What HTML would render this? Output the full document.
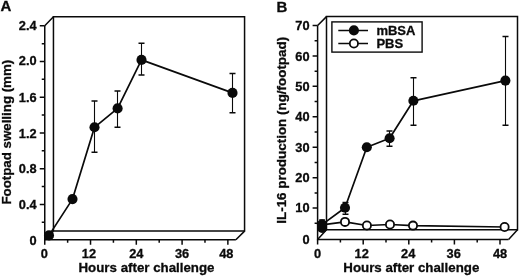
<!DOCTYPE html>
<html><head><meta charset="utf-8"><style>
html,body{margin:0;padding:0;background:#fff;}
body{width:520px;height:276px;overflow:hidden;}
svg{display:block;filter:grayscale(1) blur(0.3px);}
text{font-family:"Liberation Sans",sans-serif;font-weight:bold;fill:#0a0a0a;stroke:#0a0a0a;stroke-width:0.3px;}
</style></head><body>
<svg width="520" height="276" viewBox="0 0 520 276">
<rect width="520" height="276" fill="#fff"/>
<path d="M44.75,25.8 L44.75,239.7 L235.87,239.7" fill="none" stroke="#0a0a0a" stroke-width="1.5"/>
<path d="M53.45,231.10 L53.45,16.70 L244.57,16.70 L244.57,231.10 Z" fill="none" stroke="#0a0a0a" stroke-width="1.5"/>
<path d="M44.75,25.8 L53.45,16.70 M44.75,239.7 L53.45,231.10 M235.87,239.7 L244.57,231.10" fill="none" stroke="#0a0a0a" stroke-width="1.5"/>
<path d="M39.75,204.38h5M39.75,168.66h5M39.75,132.94h5M39.75,97.22h5M39.75,61.50h5M39.75,25.78h5M41.75,222.24h3M41.75,186.52h3M41.75,150.80h3M41.75,115.08h3M41.75,79.36h3M41.75,43.64h3M44.75,239.7v5M67.64,239.7v3M90.53,239.7v5M113.42,239.7v3M136.31,239.7v5M159.20,239.7v3M182.09,239.7v5M204.98,239.7v3M227.87,239.7v5" stroke="#0a0a0a" stroke-width="1.5"/>
<text transform="translate(36.60,244.60)" text-anchor="end" font-size="12.8">0</text>
<text transform="translate(36.60,209.10)" text-anchor="end" font-size="12.8">0.4</text>
<text transform="translate(36.60,173.30)" text-anchor="end" font-size="12.8">0.8</text>
<text transform="translate(36.60,137.60)" text-anchor="end" font-size="12.8">1.2</text>
<text transform="translate(36.60,101.90)" text-anchor="end" font-size="12.8">1.6</text>
<text transform="translate(36.60,65.40)" text-anchor="end" font-size="12.8">2.0</text>
<text transform="translate(36.60,30.10)" text-anchor="end" font-size="12.8">2.4</text>
<text transform="translate(44.25,257.60)" text-anchor="middle" font-size="12.8">0</text>
<text transform="translate(88.93,257.60)" text-anchor="middle" font-size="12.8">12</text>
<text transform="translate(136.31,257.60)" text-anchor="middle" font-size="12.8">24</text>
<text transform="translate(182.09,257.60)" text-anchor="middle" font-size="12.8">36</text>
<text transform="translate(226.27,257.60)" text-anchor="middle" font-size="12.8">48</text>
<text transform="translate(146.50,271.80)" text-anchor="middle" font-size="13.3">Hours after challenge</text>
<text transform="translate(11.00,132.20) rotate(-90)" text-anchor="middle" font-size="13.3">Footpad swelling (mm)</text>
<path d="M49.0,235.4 L72.5,199.1 L94.5,127.3 L117.6,108.4 L141.5,59.9 L232.5,92.9" fill="none" stroke="#0a0a0a" stroke-width="1.7" stroke-linejoin="round"/>

<path d="M94.5,100.9 L94.5,152.2" stroke="#0a0a0a" stroke-width="1.1"/>
<path d="M91.5,100.9 h6.0 M91.5,152.2 h6.0" stroke="#0a0a0a" stroke-width="1.5"/>
<path d="M117.5,91.0 L117.5,127.2" stroke="#0a0a0a" stroke-width="1.1"/>
<path d="M114.5,91.0 h6.0 M114.5,127.2 h6.0" stroke="#0a0a0a" stroke-width="1.5"/>
<path d="M141.5,43.2 L141.5,74.9" stroke="#0a0a0a" stroke-width="1.1"/>
<path d="M138.5,43.2 h6.0 M138.5,74.9 h6.0" stroke="#0a0a0a" stroke-width="1.5"/>
<path d="M232.5,73.4 L232.5,112.8" stroke="#0a0a0a" stroke-width="1.1"/>
<path d="M229.5,73.4 h6.0 M229.5,112.8 h6.0" stroke="#0a0a0a" stroke-width="1.5"/>
<circle cx="49.0" cy="235.4" r="5.05" fill="#0a0a0a"/>
<circle cx="72.5" cy="199.1" r="5.05" fill="#0a0a0a"/>
<circle cx="94.5" cy="127.3" r="5.05" fill="#0a0a0a"/>
<circle cx="117.6" cy="108.4" r="5.05" fill="#0a0a0a"/>
<circle cx="141.5" cy="59.9" r="5.05" fill="#0a0a0a"/>
<circle cx="232.5" cy="92.9" r="5.05" fill="#0a0a0a"/>
<path d="M317.6,25.5 L317.6,239.5 L508.60,239.5" fill="none" stroke="#0a0a0a" stroke-width="1.5"/>
<path d="M326.50,229.85 L326.50,16.60 L517.50,16.60 L517.50,229.85 Z" fill="none" stroke="#0a0a0a" stroke-width="1.5"/>
<path d="M317.6,25.5 L326.50,16.60 M317.6,239.5 L326.50,229.85 M508.60,239.5 L517.50,229.85" fill="none" stroke="#0a0a0a" stroke-width="1.5"/>
<path d="M312.6,208.11h5M312.6,177.67h5M312.6,147.23h5M312.6,116.79h5M312.6,86.36h5M312.6,55.92h5M312.6,25.48h5M314.6,223.33h3M314.6,192.89h3M314.6,162.45h3M314.6,132.01h3M314.6,101.57h3M314.6,71.14h3M314.6,40.70h3M317.60,239.5v5M340.40,239.5v3M363.20,239.5v5M386.00,239.5v3M408.80,239.5v5M431.60,239.5v3M454.40,239.5v5M477.20,239.5v3M500.00,239.5v5" stroke="#0a0a0a" stroke-width="1.5"/>
<text transform="translate(309.60,244.00)" text-anchor="end" font-size="12.8">0</text>
<text transform="translate(309.60,212.30)" text-anchor="end" font-size="12.8">10</text>
<text transform="translate(309.60,181.80)" text-anchor="end" font-size="12.8">20</text>
<text transform="translate(309.60,151.50)" text-anchor="end" font-size="12.8">30</text>
<text transform="translate(309.60,120.80)" text-anchor="end" font-size="12.8">40</text>
<text transform="translate(309.60,90.60)" text-anchor="end" font-size="12.8">50</text>
<text transform="translate(309.60,61.10)" text-anchor="end" font-size="12.8">60</text>
<text transform="translate(309.60,30.10)" text-anchor="end" font-size="12.8">70</text>
<text transform="translate(317.60,257.60)" text-anchor="middle" font-size="12.8">0</text>
<text transform="translate(361.70,257.60)" text-anchor="middle" font-size="12.8">12</text>
<text transform="translate(408.20,257.60)" text-anchor="middle" font-size="12.8">24</text>
<text transform="translate(453.70,257.60)" text-anchor="middle" font-size="12.8">36</text>
<text transform="translate(500.00,257.60)" text-anchor="middle" font-size="12.8">48</text>
<text transform="translate(411.30,271.80)" text-anchor="middle" font-size="13.3">Hours after challenge</text>
<text transform="translate(285.60,130.30) rotate(-90)" text-anchor="middle" font-size="13.42">IL-16 production (ng/footpad)</text>
<path d="M322.0,224.8 L345.0,221.9 L366.9,225.5 L390.0,224.5 L413.0,225.6 L504.6,227.0" fill="none" stroke="#0a0a0a" stroke-width="1.7" stroke-linejoin="round"/>
<path d="M322.0,224.6 L345.0,207.7 L366.8,147.2 L389.6,138.2 L413.4,100.8 L505.4,80.6" fill="none" stroke="#0a0a0a" stroke-width="1.7" stroke-linejoin="round"/>
<circle cx="322.1" cy="228.0" r="4.95" fill="#0a0a0a"/><path d="M319.2,219.8h5.8" stroke="#0a0a0a" stroke-width="1.1"/>
<path d="M345.5,202.6 L345.5,214.3" stroke="#0a0a0a" stroke-width="1.1"/>
<path d="M342.5,202.6 h6.0 M342.5,214.3 h6.0" stroke="#0a0a0a" stroke-width="1.5"/>
<path d="M389.5,130.9 L389.5,146.2" stroke="#0a0a0a" stroke-width="1.1"/>
<path d="M386.5,130.9 h6.0 M386.5,146.2 h6.0" stroke="#0a0a0a" stroke-width="1.5"/>
<path d="M413.5,77.8 L413.5,125.2" stroke="#0a0a0a" stroke-width="1.1"/>
<path d="M410.5,77.8 h6.0 M410.5,125.2 h6.0" stroke="#0a0a0a" stroke-width="1.5"/>
<path d="M505.5,36.4 L505.5,125.2" stroke="#0a0a0a" stroke-width="1.1"/>
<path d="M502.5,36.4 h6.0 M502.5,125.2 h6.0" stroke="#0a0a0a" stroke-width="1.5"/>
<circle cx="322.0" cy="224.8" r="4.1" fill="#fff" stroke="#0a0a0a" stroke-width="1.8"/>
<circle cx="345.0" cy="221.9" r="4.1" fill="#fff" stroke="#0a0a0a" stroke-width="1.8"/>
<circle cx="366.9" cy="225.5" r="4.1" fill="#fff" stroke="#0a0a0a" stroke-width="1.8"/>
<circle cx="390.0" cy="224.5" r="4.1" fill="#fff" stroke="#0a0a0a" stroke-width="1.8"/>
<circle cx="413.0" cy="225.6" r="4.1" fill="#fff" stroke="#0a0a0a" stroke-width="1.8"/>
<circle cx="504.6" cy="227.0" r="4.1" fill="#fff" stroke="#0a0a0a" stroke-width="1.8"/>
<circle cx="322.0" cy="224.6" r="5.05" fill="#0a0a0a"/>
<circle cx="345.0" cy="207.7" r="5.05" fill="#0a0a0a"/>
<circle cx="366.8" cy="147.2" r="5.05" fill="#0a0a0a"/>
<circle cx="389.6" cy="138.2" r="5.05" fill="#0a0a0a"/>
<circle cx="413.4" cy="100.8" r="5.05" fill="#0a0a0a"/>
<circle cx="505.4" cy="80.6" r="5.05" fill="#0a0a0a"/>
<text transform="translate(0.60,11.40)" font-size="15">A</text>
<text transform="translate(276.60,11.80)" font-size="15">B</text>
<rect x="331.9" y="21.9" width="90.2" height="30.2" fill="#fff" stroke="#0a0a0a" stroke-width="1.4"/>
<path d="M338.3,30.4 L368,30.4 M338.3,43.5 L368,43.5" stroke="#0a0a0a" stroke-width="1.5"/>
<circle cx="353.9" cy="30.4" r="5.05" fill="#0a0a0a"/>
<circle cx="353.9" cy="43.5" r="4.1" fill="#fff" stroke="#0a0a0a" stroke-width="1.8"/>
<text transform="translate(376.40,34.60)" font-size="13">mBSA</text>
<text transform="translate(376.40,47.60)" font-size="13">PBS</text>
</svg>
</body></html>
